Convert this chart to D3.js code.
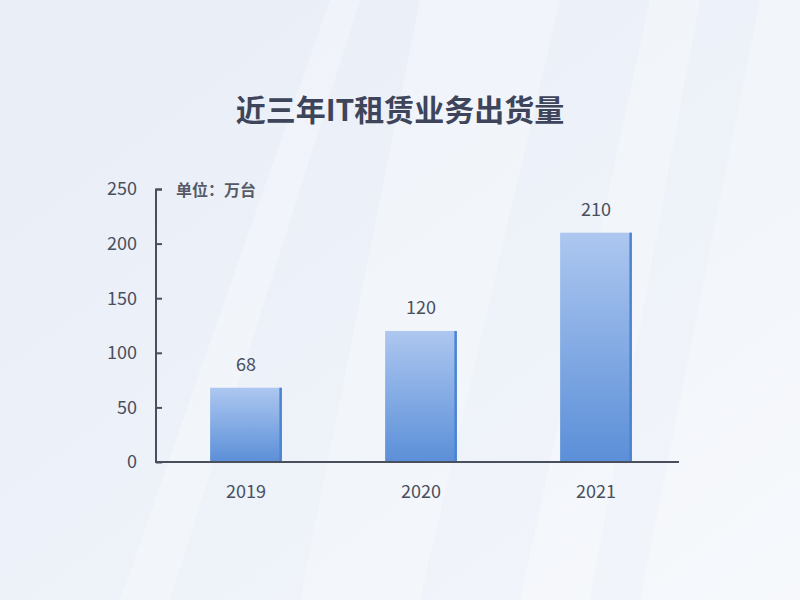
<!DOCTYPE html>
<html><head><meta charset="utf-8">
<script src="https://cdn.jsdelivr.net/npm/d3@7"></script>
<style>html,body{margin:0;padding:0;background:#eef2f9;}svg{display:block;}</style>
</head><body>
<svg id="c" width="800" height="600"></svg>
<script>
const categories = ["2019", "2020", "2021"];
const values = [68, 120, 210];
const yTicks = [0, 50, 100, 150, 200, 250];
const title = "近三年IT租赁业务出货量";
const unitLabel = "单位：万台";

const svg = d3.select("#c");
const font = "'Noto Sans CJK SC','Noto Sans',sans-serif";

// background
const defs = svg.append("defs");
const bg = defs.append("linearGradient").attr("id","bg").attr("x1","0").attr("y1","0").attr("x2","1").attr("y2","1");
bg.append("stop").attr("offset","0").attr("stop-color","#e9eef7");
bg.append("stop").attr("offset","0.6").attr("stop-color","#eef2f9");
bg.append("stop").attr("offset","1").attr("stop-color","#f3f6fb");
svg.append("rect").attr("width",800).attr("height",600).attr("fill","url(#bg)");
const streaks = [
  [[300,600],[420,0],[560,0],[420,600]],
  [[520,600],[650,0],[700,0],[590,600]],
  [[640,600],[760,0],[800,0],[800,600]],
  [[120,600],[330,0],[360,0],[170,600]]
];
svg.append("g").selectAll("path").data(streaks).join("path")
  .attr("d", d => "M" + d.join("L") + "Z")
  .attr("fill","#ffffff").attr("opacity",0.28);

const bar = defs.append("linearGradient").attr("id","bar").attr("x1","0").attr("y1","0").attr("x2","0").attr("y2","1");
bar.append("stop").attr("offset","0").attr("stop-color","#adc7f0");
bar.append("stop").attr("offset","1").attr("stop-color","#5b8fd8");

const x = d3.scaleBand().domain(categories).range([158.5, 683.5]).paddingInner(0.59).paddingOuter(0.295);
const y = d3.scaleLinear().domain([0, 250]).range([462, 189]);

// title
svg.append("text").attr("x",400).attr("y",121).attr("text-anchor","middle")
  .attr("font-family",font).attr("font-size",30).attr("font-weight","bold")
  .attr("fill","#3e4459").text(title);

// y axis
const yAxis = d3.axisRight(y).tickValues(yTicks).tickSize(6).tickFormat("");
const gy = svg.append("g").attr("transform","translate(156,0)").call(yAxis);
gy.select(".domain").attr("stroke","#4a4f5e").attr("stroke-width",2).attr("d","M6,189.5H0V462");
gy.selectAll(".tick line").attr("stroke","#4a4f5e").attr("stroke-width",2);
svg.append("g").selectAll("text").data(yTicks).join("text")
  .attr("x",137).attr("y",d=>y(d)).attr("dy","0.35em").attr("text-anchor","end")
  .attr("font-family",font).attr("font-size",18).attr("fill","#4a4f5e").text(d=>d);

// unit
svg.append("text").attr("x",176).attr("y",196).attr("font-family",font).attr("font-size",16)
  .attr("font-weight","bold").attr("fill","#555a66").text(unitLabel);

// bars
const gb = svg.append("g");
gb.selectAll("rect.b").data(values).join("rect").attr("class","b")
  .attr("x",(d,i)=>x(categories[i])).attr("width",x.bandwidth())
  .attr("y",d=>y(d)).attr("height",d=>y(0)-y(d)).attr("fill","url(#bar)");
gb.selectAll("rect.e").data(values).join("rect").attr("class","e")
  .attr("x",(d,i)=>x(categories[i])+x.bandwidth()-2.5).attr("width",2.5)
  .attr("y",d=>y(d)).attr("height",d=>y(0)-y(d)).attr("fill","#4d84d2");

// value labels
svg.append("g").selectAll("text").data(values).join("text")
  .attr("x",(d,i)=>x(categories[i])+x.bandwidth()/2).attr("y",d=>y(d)-17)
  .attr("text-anchor","middle").attr("font-family",font).attr("font-size",18)
  .attr("fill","#4a4f5e").text(d=>d);

// x axis
const xAxis = d3.axisBottom(x).tickSize(0).tickPadding(23);
const gx = svg.append("g").attr("transform","translate(0,462)").call(xAxis);
gx.select(".domain").attr("stroke","#4a4f5e").attr("stroke-width",2).attr("d","M155,0H679");
gx.selectAll(".tick text").attr("font-family",font).attr("font-size",18).attr("fill","#4a4f5e");
</script>
</body></html>
